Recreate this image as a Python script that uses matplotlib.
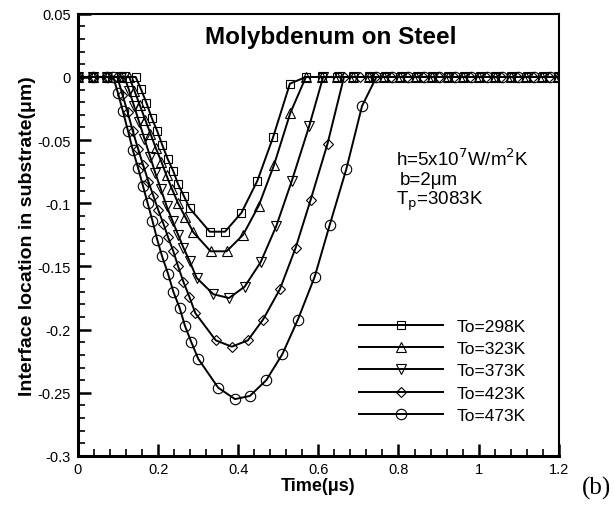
import matplotlib
matplotlib.use("Agg")
import matplotlib.pyplot as plt
from matplotlib.ticker import MultipleLocator, FuncFormatter

plt.rcParams['font.family'] = ['Liberation Sans', 'DejaVu Sans']
plt.rcParams['axes.unicode_minus'] = False

# interface location (um) vs time (us)
t298 = [0, 0.037, 0.072, 0.107, 0.144, 0.157, 0.171, 0.184, 0.198, 0.210, 0.224, 0.238,
        0.250, 0.264, 0.279, 0.329, 0.367, 0.408, 0.448, 0.487, 0.529,
        0.569, 0.608, 0.647, 0.687, 0.726, 0.765, 0.805, 0.844, 0.883, 0.923, 0.962,
        1.001, 1.041, 1.080, 1.119, 1.159, 1.198]
s298 = [0, 0, 0, 0, 0, -0.0095, -0.0206, -0.0324, -0.043, -0.0535, -0.065, -0.0746,
        -0.085, -0.094, -0.104, -0.1225, -0.1225, -0.1075, -0.082, -0.0477, -0.0053,
        0, 0, 0, 0, 0, 0, 0, 0, 0, 0, 0, 0, 0, 0, 0, 0, 0]

t323 = [0, 0.037, 0.072, 0.107, 0.128, 0.141, 0.154, 0.168, 0.181, 0.194, 0.208, 0.221,
        0.235, 0.250, 0.268, 0.288, 0.331, 0.371, 0.412, 0.451, 0.489, 0.530,
        0.569, 0.608, 0.647, 0.687, 0.726, 0.765, 0.805, 0.844, 0.883, 0.923, 0.962,
        1.001, 1.041, 1.080, 1.119, 1.159, 1.198]
s323 = [0, 0, 0, 0, 0, -0.011, -0.022, -0.034, -0.045, -0.056, -0.067, -0.078,
        -0.089, -0.100, -0.111, -0.123, -0.138, -0.138, -0.125, -0.102, -0.070, -0.0285,
        0, 0, 0, 0, 0, 0, 0, 0, 0, 0, 0, 0, 0, 0, 0, 0, 0]

t373 = [0, 0.037, 0.072, 0.107, 0.116, 0.128, 0.140, 0.153, 0.166, 0.180, 0.193, 0.207,
        0.221, 0.236, 0.250, 0.263, 0.279, 0.296, 0.338, 0.377, 0.416, 0.456, 0.495,
        0.534, 0.577, 0.612, 0.651, 0.690, 0.730, 0.769, 0.808, 0.848, 0.887, 0.926,
        0.966, 1.005, 1.044, 1.084, 1.123, 1.162, 1.200]
s373 = [0, 0, 0, 0, 0, -0.011, -0.023, -0.036, -0.049, -0.063, -0.076, -0.089,
        -0.102, -0.114, -0.125, -0.135, -0.146, -0.159, -0.172, -0.175, -0.166, -0.1466,
        -0.118, -0.082, -0.039, 0, 0, 0, 0, 0, 0, 0, 0, 0, 0, 0, 0, 0, 0, 0, 0]

t423 = [0, 0.037, 0.072, 0.098, 0.111, 0.124, 0.137, 0.150, 0.163, 0.176, 0.188, 0.200,
        0.213, 0.225, 0.238, 0.250, 0.263, 0.278, 0.293, 0.344, 0.384, 0.424, 0.462,
        0.504, 0.543, 0.581, 0.623, 0.664, 0.703, 0.742, 0.782, 0.821, 0.860, 0.900,
        0.939, 0.978, 1.018, 1.057, 1.096, 1.136, 1.175]
s423 = [0, 0, 0, 0, -0.014, -0.028, -0.043, -0.057, -0.070, -0.083, -0.094, -0.105,
        -0.116, -0.127, -0.138, -0.150, -0.162, -0.174, -0.187, -0.2085, -0.2135, -0.2085,
        -0.192, -0.168, -0.1355, -0.097, -0.0527, 0, 0, 0, 0, 0, 0, 0, 0, 0, 0, 0, 0, 0, 0]

t473 = [0, 0.037, 0.072, 0.088, 0.100, 0.112, 0.125, 0.137, 0.150, 0.162, 0.174, 0.186,
        0.198, 0.210, 0.225, 0.238, 0.254, 0.267, 0.283, 0.300, 0.350, 0.392, 0.429,
        0.470, 0.510, 0.549, 0.591, 0.628, 0.670, 0.709, 0.745, 0.784, 0.823, 0.863,
        0.902, 0.941, 0.981, 1.020, 1.059, 1.099, 1.138, 1.177]
s473 = [0, 0, 0, 0, -0.013, -0.027, -0.043, -0.058, -0.072, -0.086, -0.100, -0.114,
        -0.129, -0.142, -0.156, -0.170, -0.183, -0.197, -0.210, -0.223, -0.246, -0.255,
        -0.2525, -0.240, -0.2195, -0.192, -0.158, -0.1175, -0.0727, -0.023,
        0, 0, 0, 0, 0, 0, 0, 0, 0, 0, 0, 0]

series = [
    (t298, s298, 's', 5.5, 'To=298K'),
    (t323, s323, '^', 6.5, 'To=323K'),
    (t373, s373, 'v', 6.5, 'To=373K'),
    (t423, s423, 'D', 5.0, 'To=423K'),
    (t473, s473, 'o', 7.5, 'To=473K'),
]

fig = plt.figure(figsize=(6.14, 5.10), dpi=100)
ax = fig.add_axes([0.127, 0.104, 0.783, 0.867])

for t, s, mk, ms, lab in series:
    ax.plot(t, s, '-', color='black', lw=1.4, marker=mk, ms=ms,
            mfc='none', mec='black', mew=0.8, label=lab)

ax.set_xlim(0, 1.2)
ax.set_ylim(-0.3, 0.05)
ax.xaxis.set_major_locator(MultipleLocator(0.2))
ax.xaxis.set_minor_locator(MultipleLocator(0.04))
ax.yaxis.set_major_locator(MultipleLocator(0.05))
ax.yaxis.set_minor_locator(MultipleLocator(0.01))
fmt = FuncFormatter(lambda v, p: '%g' % round(v, 3))
ax.xaxis.set_major_formatter(fmt)
ax.yaxis.set_major_formatter(fmt)
ax.tick_params(which='both', direction='in', top=False, right=False, labelsize=10.5)
ax.tick_params(which='major', length=9, width=1.8)
ax.tick_params(which='minor', length=5, width=1.2)
ax.tick_params(axis='y', pad=5)
ax.tick_params(axis='x', pad=4)

for side in ['left', 'bottom']:
    ax.spines[side].set_linewidth(2.2)
for side in ['top', 'right']:
    ax.spines[side].set_linewidth(1.5)

ax.set_xlabel('Time(\u03bcs)', fontsize=13, fontweight='bold', labelpad=1)
ax.set_ylabel('Interface location in substrate(\u03bcm)', fontsize=14,
              fontweight='bold', labelpad=1)

ax.text(0.526, 0.975, 'Molybdenum on Steel', transform=ax.transAxes,
        ha='center', va='top', fontsize=17.5, fontweight='bold')

ax.text(0.795, -0.064, 'h=5x10$^7$W/m$^2$K', fontsize=13.5, va='center')
ax.text(0.803, -0.0815, 'b=2\u03bcm', fontsize=13.5, va='center')
ax.text(0.795, -0.0975, 'T$_\\mathrm{p}$=3083K', fontsize=13.5, va='center')

ax.legend(loc='upper left', bbox_to_anchor=(0.585, 0.311), frameon=False,
          fontsize=12.5, handlelength=4.8, handletextpad=0.8, labelspacing=0.42,
          borderpad=0, borderaxespad=0)

fig.text(0.948, 0.03, '(b)', fontsize=18, family='Liberation Serif')

fig.savefig('out.png', dpi=100)
